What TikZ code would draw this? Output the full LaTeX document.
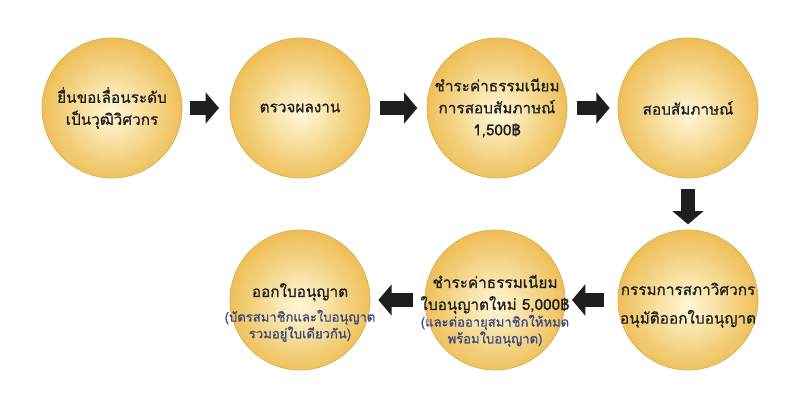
\documentclass[tikz,border=0pt]{standalone}
\usepackage{fontspec}
\usepackage{xcolor}
\usetikzlibrary{arrows.meta,positioning}
\newfontfamily\thaifont[Script=Thai,FakeBold=0.8]{Loma}
\definecolor{ballcore}{HTML}{FEF7D6}
\definecolor{ballrim}{HTML}{EFC05A}
\definecolor{ballline}{HTML}{D9AB4C}
\definecolor{arrowcol}{HTML}{1E1E1E}
\definecolor{notecol}{HTML}{3A4A7E}
\pgfdeclareradialshading{goldball}{\pgfpoint{0bp}{-2bp}}{%
  color(0bp)=(ballcore); color(8bp)=(ballcore!70!ballrim);
  color(16bp)=(ballcore!35!ballrim); color(25bp)=(ballrim); color(50bp)=(ballrim)}
\newcommand{\note}[1]{{\fontsize{9.8}{12}\selectfont\color{notecol}#1}}
\tikzset{
  ball/.style={circle, minimum size=105pt, inner sep=-16pt, shading=goldball,
    draw=ballline, line width=0.5pt, align=center, text=black!88,
    font=\thaifont\fontsize{11.5}{16.5}\selectfont},
  flowarrow/.style={draw=arrowcol, line width=10.5pt,
    -{Triangle[length=10pt,width=23pt]}},
}
\begin{document}
\begin{tikzpicture}[x=0.75pt,y=-0.75pt]
  \useasboundingbox (0,0) rectangle (800,414);
  % upper row
  \node[ball] (apply)  at (112,108) {ยื่นขอเลื่อนระดับ\\เป็นวุฒิวิศวกร};
  \node[ball] (review) at (300,108) {ตรวจผลงาน};
  \node[ball] (feeone) at (497,108) {ชำระค่าธรรมเนียม\\การสอบสัมภาษณ์\\1,500฿};
  \node[ball] (interview) at (688,108) {สอบสัมภาษณ์};
  % lower row (struts push the text a little lower)
  \node[ball] (council) at (688,300) {\rule{0pt}{17pt}กรรมการสภาวิศวกร\\[5pt]อนุมัติออกใบอนุญาต};
  \node[ball] (feetwo)  at (495,300) {\rule{0pt}{26pt}ชำระค่าธรรมเนียม\\ใบอนุญาตใหม่ 5,000฿\\[-4pt]
    \note{(และต่ออายุสมาชิกให้หมด}\\[-4pt]\note{พร้อมใบอนุญาต)}};
  \node[ball] (issue)   at (300,300) {\rule{0pt}{29pt}ออกใบอนุญาต\\[2pt]
    \note{(บัตรสมาชิกและใบอนุญาต}\\[-4pt]\note{รวมอยู่ใบเดียวกัน)}};
  % arrows
  \draw[flowarrow, shorten <=6pt, shorten >=8pt] (apply) -- (review);
  \draw[flowarrow, shorten <=7pt, shorten >=7pt] (review) -- (feeone);
  \draw[flowarrow, shorten <=7pt, shorten >=6pt] (feeone) -- (interview);
  \draw[flowarrow, shorten <=8pt, shorten >=4pt] (interview) -- (council);
  \draw[flowarrow, shorten <=10pt, shorten >=5pt] (council) -- (feetwo);
  \draw[flowarrow, shorten <=9pt, shorten >=6pt] (feetwo) -- (issue);
\end{tikzpicture}
\end{document}
